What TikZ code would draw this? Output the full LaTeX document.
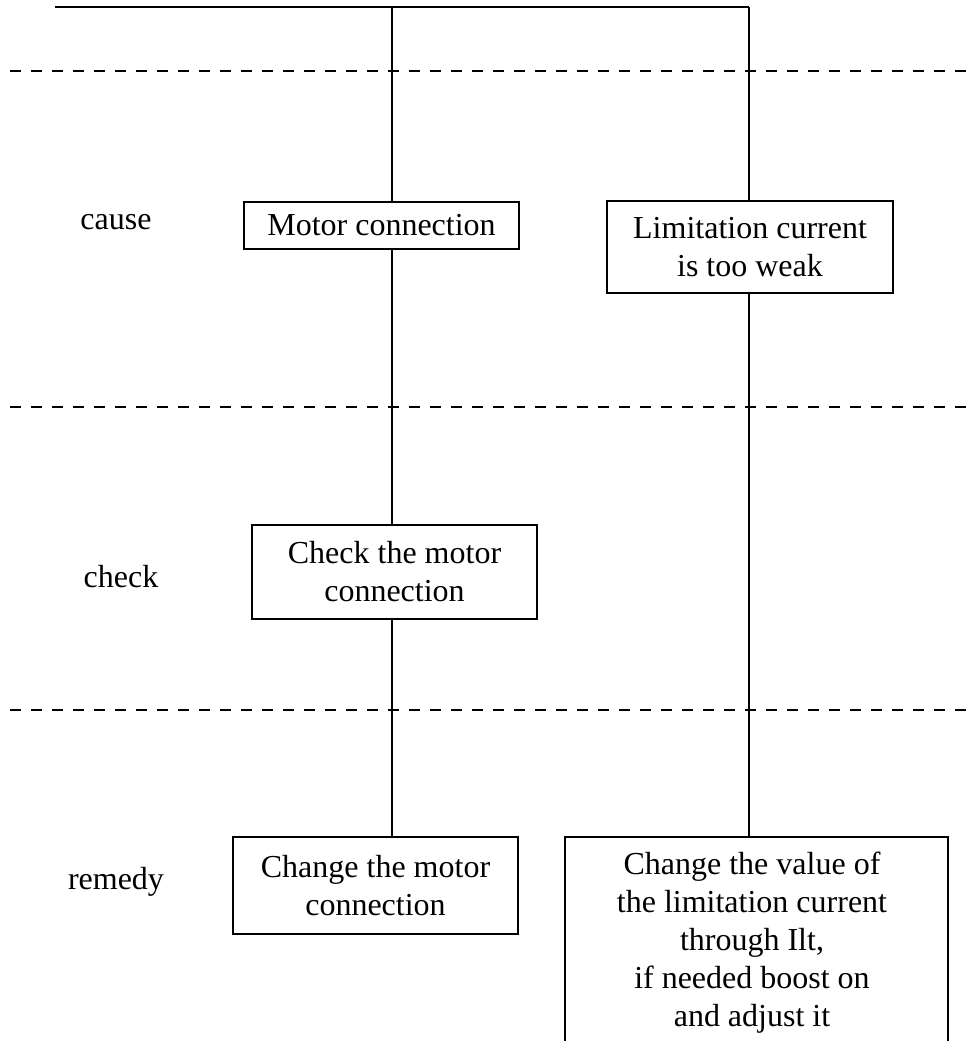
\documentclass[tikz,border=0pt]{standalone}
\usepackage{fontspec}
\setmainfont{Liberation Serif}
\begin{document}
\begin{tikzpicture}[x=1pt,y=-1pt,
  every node/.style={font=\fontsize{32}{38}\selectfont, inner sep=0pt},
  stepbox/.style={draw, line width=1.7pt, rectangle, align=center},
  link/.style={line width=1.7pt},
  sep/.style={line width=2.8pt, dash pattern=on 10.5pt off 10.5pt},
  lbl/.style={}]
\useasboundingbox (0,0) rectangle (973,1041);
% separators
\coordinate (d1a) at (10,71);   \coordinate (d1b) at (973,71);
\coordinate (d2a) at (10,407);  \coordinate (d2b) at (973,407);
\coordinate (d3a) at (10,710);  \coordinate (d3b) at (973,710);
\draw[sep] (d1a) -- (d1b);
\draw[sep] (d2a) -- (d2b);
\draw[sep] (d3a) -- (d3b);
% labels
\node[lbl] (lcause) at (116,222) {cause};
\node[lbl] (lcheck) at (121,577) {check};
\node[lbl] (lremedy) at (116,882) {remedy};
% boxes
\node[stepbox, minimum width=275, minimum height=47] (motor) at (381.5,225.5) {Motor connection};
\node[stepbox, minimum width=286, minimum height=92] (limit) at (750,247) {Limitation current\\is too weak};
\node[stepbox, minimum width=285, minimum height=94] (check) at (394.5,572) {Check the motor\\connection};
\node[stepbox, minimum width=285, minimum height=97] (remL) at (375.5,885.5) {Change the motor\\connection};
\coordinate (rbl) at (565,1045);
\coordinate (rtl) at (565,837);
\coordinate (rtr) at (948,837);
\coordinate (rbr) at (948,1045);
\draw[link] (rbl) -- (rtl) -- (rtr) -- (rbr);
\node[align=center] (remR) at (752,943) {Change the value of\\the limitation current\\through Ilt,\\if needed boost on\\and adjust it};
% trunk
\coordinate (tl) at (55,7);
\coordinate (tj) at (392,7);
\coordinate (tr) at (749,7);
\draw[link, line width=2.3pt] (tl) -- (tr);
\draw[link] (tj) -- (tj |- motor.north);
\draw[link] (tj |- motor.south) -- (tj |- check.north);
\draw[link] (tj |- check.south) -- (tj |- remL.north);
\draw[link] (tr) -- (tr |- limit.north);
\draw[link] (tr |- limit.south) -- (tr |- rtl);
\end{tikzpicture}
\end{document}
